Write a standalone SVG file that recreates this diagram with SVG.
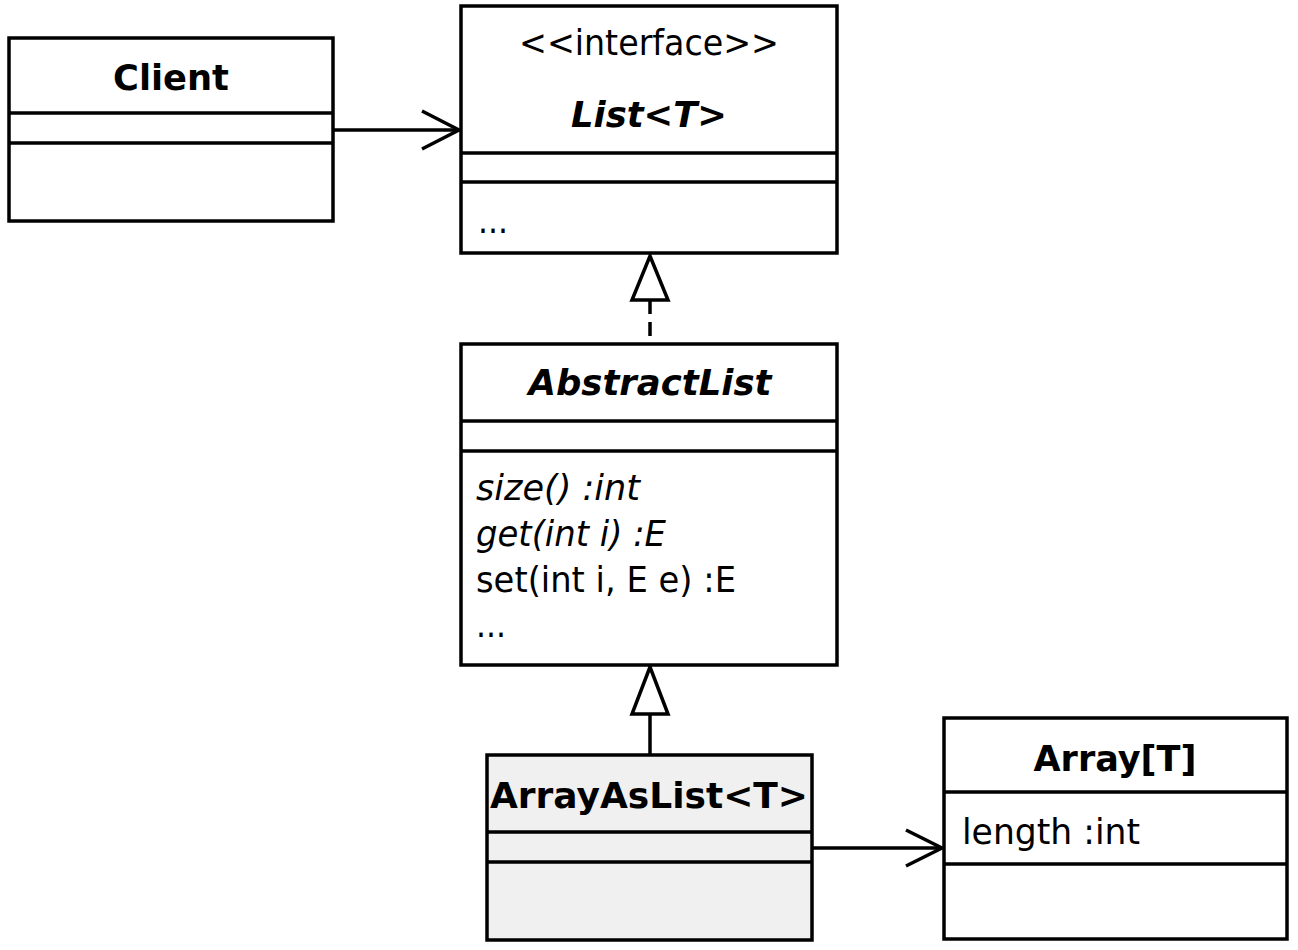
<svg xmlns="http://www.w3.org/2000/svg" width="1298" height="950" viewBox="0 0 1298 950">
<style>
.box{fill:#fff;stroke:#000;stroke-width:3.5}
.sep{stroke:#000;stroke-width:3.5}
.t{font-family:"DejaVu Sans",sans-serif;font-size:35px;fill:#000}
.b{font-weight:bold}
.i{font-style:italic}
.c{text-anchor:middle}
.conn{stroke:#000;stroke-width:3.5;fill:none}
</style>
<rect width="1298" height="950" fill="#fff"/>
<g id="connectors">
  <line class="conn" x1="333" y1="130" x2="459" y2="130"/>
  <polyline class="conn" points="422,111 459,130 422,149"/>
  <line class="conn" x1="650" y1="300" x2="650" y2="343" stroke-dasharray="14,8"/>
  <polygon class="conn" points="650,256 668,300 632,300" fill="#fff"/>
  <line class="conn" x1="650" y1="714" x2="650" y2="755"/>
  <polygon class="conn" points="650,667 668,714 632,714" fill="#fff"/>
  <line class="conn" x1="812" y1="848" x2="942" y2="848"/>
  <polyline class="conn" points="906,830 942,848 906,866"/>
</g>
<g id="client">
  <rect class="box" x="9" y="38" width="324" height="183"/>
  <line class="sep" x1="9" y1="113" x2="333" y2="113"/>
  <line class="sep" x1="9" y1="143" x2="333" y2="143"/>
  <text class="t b c" x="171" y="90" textLength="116" lengthAdjust="spacingAndGlyphs">Client</text>
</g>
<g id="list">
  <rect class="box" x="461" y="6" width="376" height="247"/>
  <line class="sep" x1="461" y1="153" x2="837" y2="153"/>
  <line class="sep" x1="461" y1="182" x2="837" y2="182"/>
  <text class="t c" x="649" y="55" textLength="260" lengthAdjust="spacingAndGlyphs">&lt;&lt;interface&gt;&gt;</text>
  <text class="t b i c" x="649" y="127" textLength="156" lengthAdjust="spacingAndGlyphs">List&lt;T&gt;</text>
  <text class="t" x="478" y="233" textLength="30" lengthAdjust="spacingAndGlyphs">...</text>
</g>
<g id="abstractlist">
  <rect class="box" x="461" y="344" width="376" height="321"/>
  <line class="sep" x1="461" y1="421" x2="837" y2="421"/>
  <line class="sep" x1="461" y1="451" x2="837" y2="451"/>
  <text class="t b i c" x="650" y="395" textLength="243" lengthAdjust="spacingAndGlyphs">AbstractList</text>
  <text class="t i" x="476" y="500" textLength="164" lengthAdjust="spacingAndGlyphs">size() :int</text>
  <text class="t i" x="476" y="546" textLength="190" lengthAdjust="spacingAndGlyphs">get(int i) :E</text>
  <text class="t" x="476" y="592" textLength="260" lengthAdjust="spacingAndGlyphs">set(int i, E e) :E</text>
  <text class="t" x="476" y="637" textLength="30" lengthAdjust="spacingAndGlyphs">...</text>
</g>
<g id="arrayaslist">
  <rect class="box" x="487" y="755" width="325" height="185" style="fill:#f0f0f0"/>
  <line class="sep" x1="487" y1="832" x2="812" y2="832"/>
  <line class="sep" x1="487" y1="862" x2="812" y2="862"/>
  <text class="t b c" x="649" y="808" textLength="318" lengthAdjust="spacingAndGlyphs">ArrayAsList&lt;T&gt;</text>
</g>
<g id="array">
  <rect class="box" x="944" y="718" width="343" height="221"/>
  <line class="sep" x1="944" y1="792" x2="1287" y2="792"/>
  <line class="sep" x1="944" y1="864" x2="1287" y2="864"/>
  <text class="t b c" x="1115" y="771" textLength="163" lengthAdjust="spacingAndGlyphs">Array[T]</text>
  <text class="t" x="962" y="844" textLength="178" lengthAdjust="spacingAndGlyphs">length :int</text>
</g>
</svg>
